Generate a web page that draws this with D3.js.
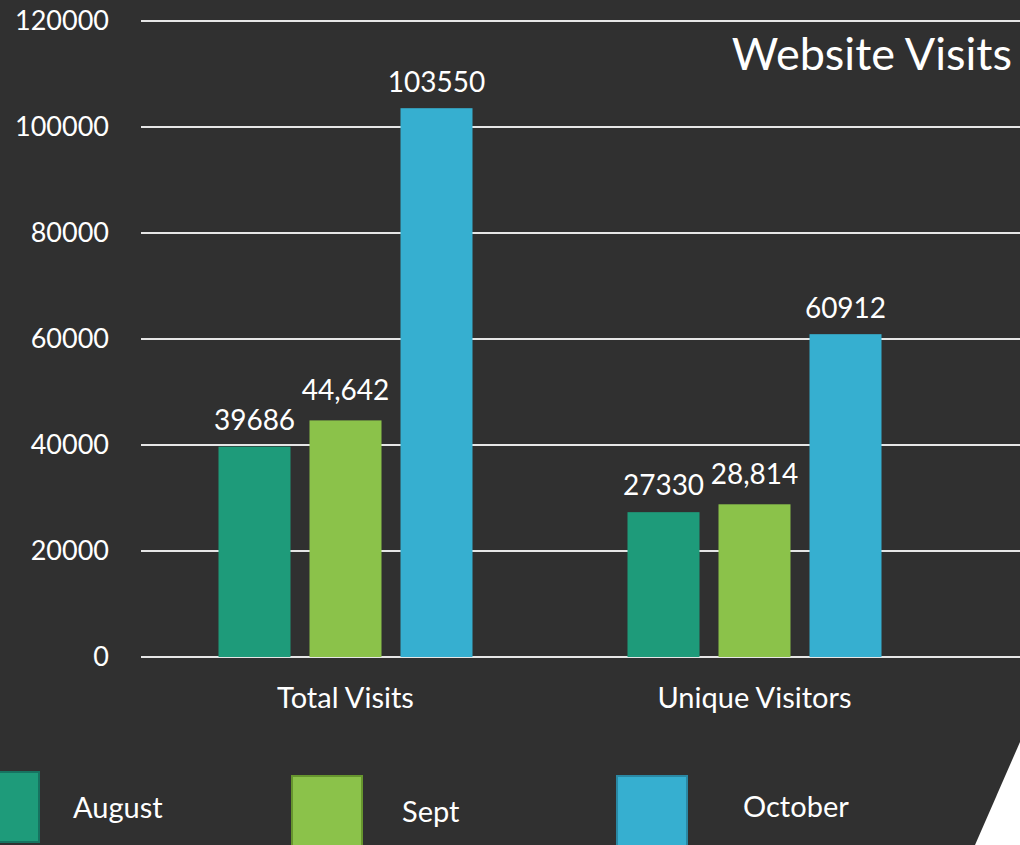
<!DOCTYPE html>
<html>
<head>
<meta charset="utf-8">
<script src="https://cdn.jsdelivr.net/npm/d3@7"></script>
<style>
  body { margin: 0; background: #303030; }
  svg { display: block; font-family: Lato, "Open Sans", sans-serif; }
</style>
</head>
<body>
<div id="chart"></div>
<script>
// data
const categories = ["Total Visits", "Unique Visitors"];
const months = ["August", "Sept", "October"];
const august = [39686, 27330];
const sept = [44642, 28814];
const october = [103550, 60912];
const yTicks = [0, 20000, 40000, 60000, 80000, 100000, 120000];

const colors = { August: "#1e9b7a", Sept: "#8bc24a", October: "#36afd0" };
const borders = { August: "#167360", Sept: "#66952e", October: "#2a88a4" };
// Sept labels show a thousands separator in the original
const fmt = { August: d3.format("d"), Sept: d3.format(","), October: d3.format("d") };

const seriesValues = { August: august, Sept: sept, October: october };

const width = 1020, height = 845;
const margin = { top: 21, left: 141, bottom: 657 };

const svg = d3.select("#chart")
  .append("svg")
  .attr("width", width)
  .attr("height", height);

svg.append("rect")
  .attr("width", width)
  .attr("height", height)
  .attr("fill", "#303030");

const y = d3.scaleLinear()
  .domain([0, 120000])
  .range([margin.bottom, margin.top]);

const x0 = d3.scaleBand()
  .domain(categories)
  .range([margin.left, 959]);

const innerW = 254;
const x1 = d3.scaleBand()
  .domain(months)
  .range([0, innerW])
  .paddingInner(19 / 91);

// gridlines
svg.append("g")
  .selectAll("line")
  .data(yTicks)
  .enter()
  .append("line")
  .attr("x1", margin.left)
  .attr("x2", width)
  .attr("y1", d => y(d))
  .attr("y2", d => y(d))
  .attr("stroke", "#e6e6e6")
  .attr("stroke-width", 2);

// y tick labels
svg.append("g")
  .selectAll("text")
  .data(yTicks)
  .enter()
  .append("text")
  .attr("x", 109)
  .attr("y", d => y(d))
  .attr("dy", "0.35em")
  .attr("text-anchor", "end")
  .attr("fill", "#ffffff")
  .attr("font-size", 27)
  .text(d => d);

// bars
const groups = svg.append("g")
  .selectAll("g")
  .data(categories)
  .enter()
  .append("g")
  .attr("transform", d => `translate(${x0(d) + (x0.bandwidth() - innerW) / 2},0)`);

groups.selectAll("rect")
  .data((c, i) => months.map(m => ({ m, v: seriesValues[m][i] })))
  .enter()
  .append("rect")
  .attr("x", d => x1(d.m))
  .attr("y", d => y(d.v))
  .attr("width", x1.bandwidth())
  .attr("height", d => y(0) - y(d.v))
  .attr("fill", d => colors[d.m]);

groups.selectAll("text")
  .data((c, i) => months.map(m => ({ m, v: seriesValues[m][i] })))
  .enter()
  .append("text")
  .attr("x", d => x1(d.m) + x1.bandwidth() / 2)
  .attr("y", d => y(d.v) - (d.m === "August" ? 17 : d.m === "Sept" ? 20 : 16))
  .attr("text-anchor", "middle")
  .attr("fill", "#ffffff")
  .attr("font-size", 28)
  .text(d => fmt[d.m](d.v));

// category labels
svg.append("g")
  .selectAll("text")
  .data(categories)
  .enter()
  .append("text")
  .attr("x", d => x0(d) + x0.bandwidth() / 2)
  .attr("y", 708)
  .attr("text-anchor", "middle")
  .attr("fill", "#ffffff")
  .attr("font-size", 29)
  .text(d => d);

// title
svg.append("text")
  .attr("x", 1012)
  .attr("y", 70)
  .attr("text-anchor", "end")
  .attr("fill", "#ffffff")
  .attr("font-size", 45)
  .text("Website Visits");

// legend
const legendPos = [
  { m: "August", sx: -31, sy: 772, tx: 73, ty: 818 },
  { m: "Sept", sx: 292, sy: 776, tx: 402, ty: 822 },
  { m: "October", sx: 617, sy: 776, tx: 743, ty: 817 }
];

const legend = svg.append("g");
legend.selectAll("rect")
  .data(legendPos)
  .enter()
  .append("rect")
  .attr("x", d => d.sx)
  .attr("y", d => d.sy)
  .attr("width", 70)
  .attr("height", 70)
  .attr("fill", d => colors[d.m])
  .attr("stroke", d => borders[d.m])
  .attr("stroke-width", 2);

legend.selectAll("text")
  .data(legendPos)
  .enter()
  .append("text")
  .attr("x", d => d.tx)
  .attr("y", d => d.ty)
  .attr("fill", "#ffffff")
  .attr("font-size", 29)
  .text(d => d.m);

// white slide corner at bottom right
svg.append("path")
  .attr("d", "M1020,742 L975,845 L1020,845 Z")
  .attr("fill", "#ffffff");
</script>
</body>
</html>
